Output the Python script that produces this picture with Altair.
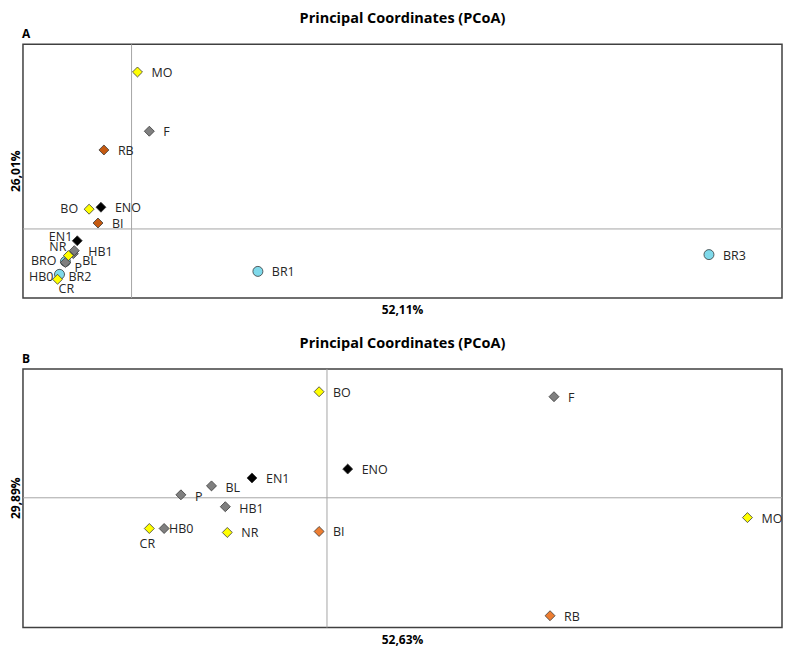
import altair as alt
import pandas as pd

TITLE = "Principal Coordinates (PCoA)"

# ---------------- Panel A data ----------------
A_LABEL = "A"
A_XTITLE = "52,11%"
A_YTITLE = "26,01%"
A_XDOMAIN = [-0.44, 2.636]
A_YDOMAIN = [-0.28, 0.748]
A_NAMES = ["BR0", "P", "HB0", "BR2", "CR", "BL", "HB1", "NR", "EN1", "BI", "ENO", "BO", "RB", "F", "MO", "BR1", "BR3"]
A_X = [-0.268, -0.268, -0.292, -0.292, -0.300, -0.236, -0.232, -0.256, -0.220, -0.136, -0.124, -0.172, -0.112, 0.072, 0.024, 0.512, 2.340]
A_Y = [-0.132, -0.136, -0.184, -0.184, -0.204, -0.100, -0.088, -0.108, -0.048, 0.024, 0.088, 0.080, 0.320, 0.396, 0.636, -0.172, -0.104]
A_GROUP = ["BR", "grey", "grey", "BR", "yellow", "grey", "grey", "yellow", "black", "orange", "black", "yellow", "orange", "grey", "yellow", "BR", "BR"]

# ---------------- Panel B data ----------------
B_LABEL = "B"
B_XTITLE = "52,63%"
B_YTITLE = "29,89%"
B_XDOMAIN = [-1.232, 1.844]
B_YDOMAIN = [-0.524, 0.52]
B_NAMES = ["BO", "ENO", "EN1", "BL", "P", "HB1", "CR", "HB0", "NR", "BI", "F", "MO", "RB"]
B_X = [-0.032, 0.084, -0.304, -0.468, -0.592, -0.412, -0.720, -0.660, -0.404, -0.032, 0.920, 1.704, 0.904]
B_Y = [0.428, 0.116, 0.080, 0.048, 0.012, -0.036, -0.124, -0.124, -0.140, -0.136, 0.408, -0.080, -0.476]
B_GROUP = ["yellow", "black", "black", "grey", "grey", "grey", "yellow", "grey", "yellow", "orange", "grey", "yellow", "orange"]

GROUPS = ["yellow", "grey", "black", "orange", "BR"]
A_COLORS = ["#FFFF00", "#7F7F7F", "#000000", "#C55A11", "#7FD9EA"]
B_COLORS = ["#FFFF00", "#7F7F7F", "#000000", "#ED7D31", "#7FD9EA"]
SHAPES = ["diamond", "diamond", "diamond", "diamond", "circle"]

# label placement: (dx, dy, align) -> names
A_PLACE = {
    (14, 1, "left"): ["MO", "F", "RB", "ENO", "BI", "HB1", "BR1", "BR3"],
    (-11, 0, "right"): ["BO"],
    (-5, -4, "right"): ["EN1"],
    (-2, -9, "right"): ["NR"],
    (-9, -1, "right"): ["BR0"],
    (9, 6, "left"): ["P"],
    (9, 7, "left"): ["BL"],
    (-6, 3, "right"): ["HB0"],
    (9, 3, "left"): ["BR2"],
    (1, 10, "left"): ["CR"],
}
A_DISPLAY = {"BR0": "BRO"}
B_PLACE = {
    (14, 1, "left"): ["BO", "ENO", "EN1", "NR", "BI", "F", "MO", "RB"],
    (14, 2, "left"): ["BL", "P", "HB1"],
    (5, 0, "left"): ["HB0"],
    (-2, 16, "center"): ["CR"],
}

FONT = "Open Sans"
TEXT_COLOR = "#262626"
W = 760


def panel(names, xs, ys, groups, colors, xdom, ydom, place, letter, xtitle, ytitle, h, clip, display=None):
    display = display or {}
    df = pd.DataFrame({"name": names, "x": xs, "y": ys, "group": groups,
                       "label": [display.get(n, n) for n in names],
                       "order": list(range(len(names)))})
    xs_ = alt.Scale(domain=xdom, nice=False, zero=False)
    ys_ = alt.Scale(domain=ydom, nice=False, zero=False)
    X = alt.X("x:Q", scale=xs_, axis=None)
    Y = alt.Y("y:Q", scale=ys_, axis=None)

    base = alt.Chart(df)
    vline = alt.Chart(pd.DataFrame({"x": [0.0]})).mark_rule(color="#A6A6A6", strokeWidth=1).encode(
        x=alt.X("x:Q", scale=xs_, axis=None))
    hline = alt.Chart(pd.DataFrame({"y": [0.0]})).mark_rule(color="#A6A6A6", strokeWidth=1).encode(
        y=alt.Y("y:Q", scale=ys_, axis=None))

    pts = base.mark_point(filled=True, stroke="#3A3A3A", strokeWidth=0.8, opacity=1, size=100).encode(
        x=X, y=Y,
        fill=alt.Fill("group:N", scale=alt.Scale(domain=GROUPS, range=colors), legend=None),
        shape=alt.Shape("group:N", scale=alt.Scale(domain=GROUPS, range=SHAPES), legend=None),
        order=alt.Order("order:Q"),
    )

    layers = [vline, hline, pts]
    for (dx, dy, align), nm in place.items():
        layers.append(
            base.transform_filter(alt.FieldOneOfPredicate(field="name", oneOf=nm))
            .mark_text(dx=dx, dy=dy, align=align, baseline="middle", font=FONT, fontSize=12.5,
                       color=TEXT_COLOR, clip=clip)
            .encode(x=X, y=Y, text="label:N")
        )

    def note(txt, x, y, **kw):
        return alt.Chart(pd.DataFrame({"t": [txt]})).mark_text(font=FONT, color="#000000", **kw).encode(
            x=alt.value(x), y=alt.value(y), text="t:N")

    layers.append(note(TITLE, W / 2, -25, fontSize=14.5, fontWeight="bold", align="center", baseline="middle"))
    layers.append(note(letter, -1, -10, fontSize=12, fontWeight="bold", align="left", baseline="middle"))
    layers.append(note(xtitle, W / 2, h + 12, fontSize=12, fontWeight="bold", align="center", baseline="middle"))
    layers.append(note(ytitle, -7, h / 2, fontSize=12, fontWeight="bold", align="center", baseline="middle",
                       angle=270))
    return alt.layer(*layers).properties(width=W, height=h)


pa = panel(A_NAMES, A_X, A_Y, A_GROUP, A_COLORS, A_XDOMAIN, A_YDOMAIN, A_PLACE, A_LABEL,
           A_XTITLE, A_YTITLE, 254, False, A_DISPLAY)
pb = panel(B_NAMES, B_X, B_Y, B_GROUP, B_COLORS, B_XDOMAIN, B_YDOMAIN, B_PLACE, B_LABEL,
           B_XTITLE, B_YTITLE, 259, True)

chart = alt.vconcat(pa, pb, spacing=18).properties(
    padding={"left": 1, "top": 2, "right": 0, "bottom": 0}
).resolve_scale(
    fill="independent", shape="independent", x="independent", y="independent"
).configure_view(stroke="#404040", strokeWidth=1.5)

chart.save("out.html", embed_options={"renderer": "svg", "actions": False})
